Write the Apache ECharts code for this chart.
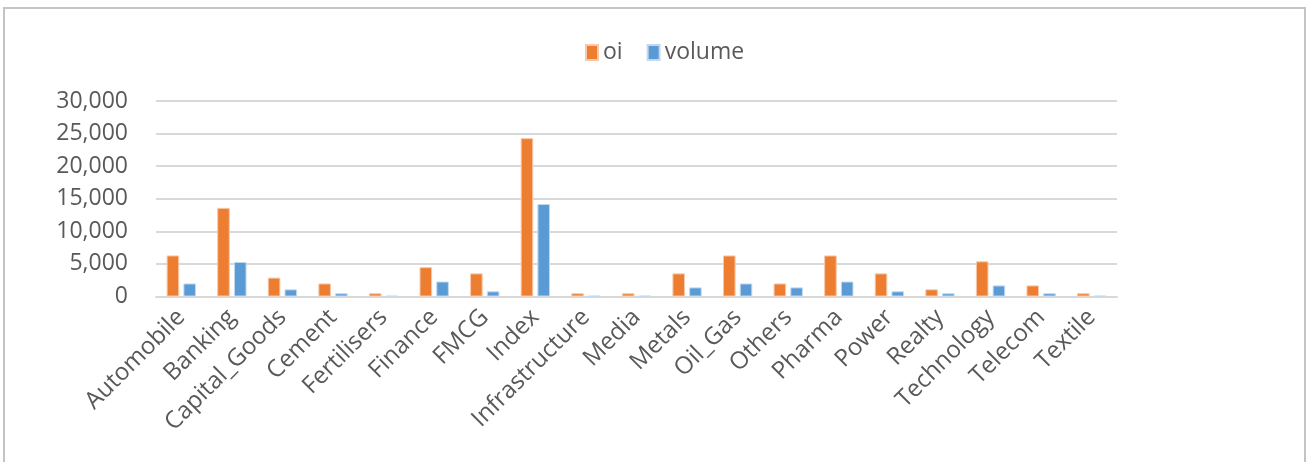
<!DOCTYPE html>
<html>
<head>
<meta charset="utf-8">
<script src="https://cdn.jsdelivr.net/npm/echarts@6/dist/echarts.min.js"></script>
<style>
  html, body { margin: 0; padding: 0; background: #fff; }
  #frame { position: absolute; left: 3px; top: 7px; width: 1303px; height: 470px; border: 2px solid #C4C4C4; box-sizing: border-box; }
  #chart { position: absolute; left: 0; top: 0; width: 1309px; height: 462px; }
</style>
</head>
<body>
<div id="frame"></div>
<div id="chart"></div>
<script>
const categories = ["Automobile","Banking","Capital_Goods","Cement","Fertilisers","Finance","FMCG","Index","Infrastructure","Media","Metals","Oil_Gas","Others","Pharma","Power","Realty","Technology","Telecom","Textile"];
const oiValues =     [6300, 13600, 2900, 2000, 500, 4500, 3550, 24300, 500, 500, 3550, 6300, 2000, 6300, 3550, 1100, 5400, 1700, 500];
const volumeValues = [2000, 5300, 1100, 500, 100, 2300, 800, 14200, 100, 100, 1400, 2000, 1400, 2300, 800, 500, 1700, 500, 100];
const yTicks = [0, 5000, 10000, 15000, 20000, 25000, 30000];

const chart = echarts.init(document.getElementById('chart'));
const font = '"Open Sans", "Noto Sans", sans-serif';
chart.setOption({
  animation: false,
  textStyle: { fontFamily: font },
  legend: {
    top: 36, left: 580,
    itemWidth: 12, itemHeight: 15, itemGap: 24,
    icon: 'rect',
    textStyle: { fontSize: 23, color: '#595959', fontFamily: font },
    data: ['oi', 'volume']
  },
  grid: { left: 156, right: 192, top: 101, bottom: 165.5, containLabel: false },
  xAxis: {
    type: 'category',
    data: categories,
    axisLine: { lineStyle: { color: '#D9D9D9', width: 2 } },
    axisTick: { show: false },
    axisLabel: { rotate: 45, interval: 0, fontSize: 24, color: '#595959', margin: 17, fontFamily: font }
  },
  yAxis: {
    type: 'value',
    min: yTicks[0], max: yTicks[yTicks.length - 1], interval: 5000,
    axisLine: { show: false },
    axisTick: { show: false },
    splitLine: { lineStyle: { color: '#D9D9D9', width: 2 } },
    axisLabel: { fontSize: 23, color: '#595959', margin: 28, fontFamily: font,
      formatter: v => v.toLocaleString('en-US') }
  },
  series: [
    { name: 'oi', type: 'bar', data: oiValues, barGap: '33%', barCategoryGap: '42%',
      itemStyle: { color: '#ED7D31', borderColor: '#F8C9A8', borderWidth: 1 } },
    { name: 'volume', type: 'bar', data: volumeValues,
      itemStyle: { color: '#5B9BD5', borderColor: '#C2D9EF', borderWidth: 1 } }
  ]
});
</script>
</body>
</html>
